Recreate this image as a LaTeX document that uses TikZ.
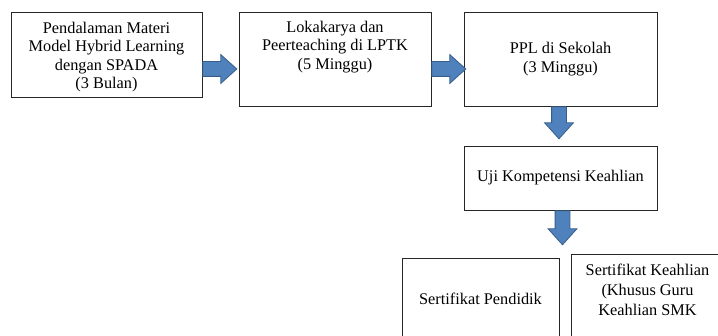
\documentclass[tikz,border=0pt]{standalone}
\usepackage{fontspec}
\setmainfont{Liberation Serif}
\usetikzlibrary{shapes.arrows}
\definecolor{arrowblue}{HTML}{4F81BD}
\definecolor{arrowline}{HTML}{385D8A}

\begin{document}
\begin{tikzpicture}[x=1pt, y=-1pt,
	box/.style={draw=black!85, line width=0.8pt, rectangle, inner sep=0pt, align=center, font=\fontsize{16.3}{18.5}\selectfont},
	toptext/.style={inner sep=0pt, align=center, font=\fontsize{16.3}{18.5}\selectfont},
	blockarrow/.style={single arrow, draw=arrowline, fill=arrowblue, line width=0.8pt, inner sep=0pt, inner ysep=7pt, single arrow head extend=7pt, single arrow head indent=0pt, single arrow tip angle=84, minimum height=34pt, anchor=tail}]
	\path[use as bounding box, clip] (0,0) rectangle (718,336);

	\node[box, minimum width=191pt, minimum height=85pt,
		label={[toptext, name=materitext, below=10pt]north:{Pendalaman Materi\\Model Hybrid Learning\\dengan SPADA\\(3 Bulan)}}] (materi) at (106.5,54.5) {};
	\node[box, minimum width=192pt, minimum height=94pt,
		label={[toptext, name=lptktext, below=9pt]north:{Lokakarya dan\\Peerteaching di LPTK\\(5 Minggu)}}] (lptk) at (335,59) {};
	\node[box, minimum width=193pt, minimum height=94pt] (ppl) at (560.5,59)
	{PPL di Sekolah\\(3 Minggu)};
	\node[box, minimum width=193pt, minimum height=64pt] (uji) at (560.5,178)
	{Uji Kompetensi Keahlian};
	\node[box, minimum width=157pt, minimum height=82pt] (pendidik) at (480.5,299)
	{Sertifikat Pendidik};
	\node[box, minimum width=153pt, minimum height=92pt,
		label={[toptext, name=smktext, below=10pt, font=\fontsize{16.3}{20}\selectfont]north:{Sertifikat Keahlian\\(Khusus Guru\\Keahlian SMK}}] (smk) at (647.5,300) {};

	\node[blockarrow] (a1) at ([yshift=-14.5pt]materi.east) {};
	\node[blockarrow] (a2) at ([yshift=-10pt]lptk.east) {};
	\node[blockarrow, rotate=-90, minimum height=32pt] (a3) at ([xshift=-1.5pt]ppl.south) {};
	\node[blockarrow, rotate=-90] (a4) at ([xshift=2pt]uji.south) {};
\end{tikzpicture}
\end{document}
